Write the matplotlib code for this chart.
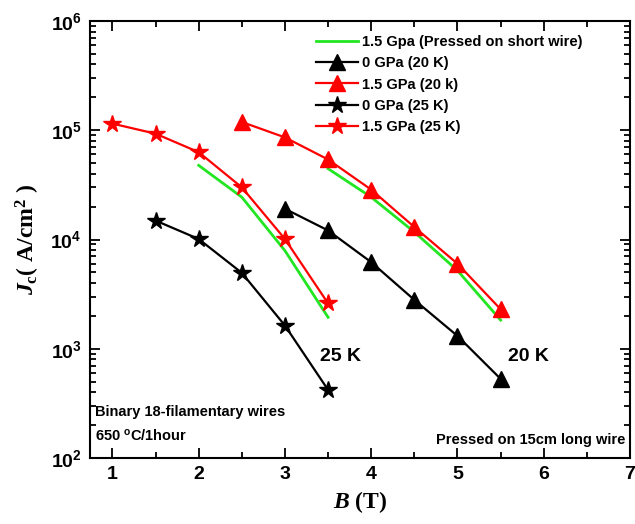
import matplotlib
matplotlib.use("Agg")
import matplotlib.pyplot as plt
from matplotlib.ticker import LogLocator, MultipleLocator, LogFormatterSciNotation


# data
b_25k = [1.0, 1.5, 2.0, 2.5, 3.0, 3.5]
jc_15gpa_25k = [1.15e5, 9.3e4, 6.3e4, 3.0e4, 1.01e4, 2.6e3]
b_0gpa_25k = [1.5, 2.0, 2.5, 3.0, 3.5]
jc_0gpa_25k = [1.49e4, 1.01e4, 4.95e3, 1.63e3, 4.2e2]

b_20k_red = [2.5, 3.0, 3.5, 4.0, 4.5, 5.0, 5.5]
jc_15gpa_20k = [1.19e5, 8.6e4, 5.4e4, 2.86e4, 1.3e4, 6.0e3, 2.3e3]
b_20k_black = [3.0, 3.5, 4.0, 4.5, 5.0, 5.5]
jc_0gpa_20k = [1.91e4, 1.21e4, 6.2e3, 2.8e3, 1.31e3, 5.3e2]

b_short_25k = [2.0, 2.5, 3.0, 3.5]
jc_short_25k = [4.77e4, 2.44e4, 7.9e3, 1.94e3]
b_short_20k = [3.5, 4.0, 4.5, 5.0, 5.5]
jc_short_20k = [4.45e4, 2.44e4, 1.17e4, 5.2e3, 1.83e3]

plt.rcParams["mathtext.fontset"] = "custom"
plt.rcParams["mathtext.it"] = "Liberation Serif:italic:bold"
plt.rcParams["mathtext.rm"] = "Liberation Serif:bold"
plt.rcParams["mathtext.bf"] = "Liberation Serif:bold"

SANS = "Liberation Sans"
SERIF = "Liberation Serif"

fig = plt.figure(figsize=(6.35, 5.24), dpi=100)
ax = fig.add_axes([90 / 635, 1 - 458 / 524, 540 / 635, 437 / 524])

lw = 1.6
ax.plot(b_short_25k, jc_short_25k, color="#22e622", lw=lw + 0.4,
        label="1.5 Gpa (Pressed on short wire)")
ax.plot(b_short_20k, jc_short_20k, color="#22e622", lw=lw + 0.4)
ax.plot(b_20k_black, jc_0gpa_20k, color="black", lw=lw, marker="^", ms=11,
        label="0 GPa (20 K)")
ax.plot(b_20k_red, jc_15gpa_20k, color="red", lw=lw, marker="^", ms=11,
        label="1.5 GPa (20 k)")
ax.plot(b_0gpa_25k, jc_0gpa_25k, color="black", lw=lw, marker="*", ms=13,
        label="0 GPa (25 K)")
ax.plot(b_25k, jc_15gpa_25k, color="red", lw=lw, marker="*", ms=13,
        label="1.5 GPa (25 K)")

ax.set_yscale("log")
ax.set_xlim(0.74, 7)
ax.set_ylim(1e2, 1e6)

ax.xaxis.set_major_locator(MultipleLocator(1))
ax.xaxis.set_minor_locator(MultipleLocator(0.5))
ax.yaxis.set_major_locator(LogLocator(base=10))
ax.yaxis.set_minor_locator(LogLocator(base=10, subs=range(2, 10)))
ax.yaxis.set_major_formatter(LogFormatterSciNotation())

ax.tick_params(which="both", direction="in", top=True, right=True, width=1.3)
ax.tick_params(which="major", length=7, labelsize=14, pad=6)
ax.tick_params(which="minor", length=4)
ax.tick_params(axis="x", which="both", top=True, labeltop=False)
ax.tick_params(axis="y", which="both", right=True, labelright=False)
for lab in ax.get_xticklabels() + ax.get_yticklabels():
    lab.set_fontfamily(SANS)
    lab.set_fontweight("bold")
for sp in ax.spines.values():
    sp.set_linewidth(1.5)

ax.set_xlabel(r"$B$ (T)", fontsize=17, fontfamily=SERIF, fontweight="bold",
              labelpad=4)
ax.set_ylabel(r"$J_{\mathdefault{c}}$( A/cm$^{\mathdefault{2}}$ )", fontsize=17,
              fontfamily=SERIF, fontweight="bold", labelpad=6)

txt = dict(fontfamily=SANS, fontweight="bold")
ax.text(3.41, 7.7e2, "25 K", fontsize=14, **txt)
ax.text(5.58, 7.7e2, "20 K", fontsize=14, **txt)
ax.text(0.8, 2.4e2, "Binary 18-filamentary wires", fontsize=10.5, **txt)
ax.text(0.8, 1.46e2, r"650 $^{\mathdefault{o}}$C/1hour", fontsize=10.5, **txt)
ax.text(6.95, 1.35e2, "Pressed on 15cm long wire", fontsize=10.5, ha="right",
        **txt)

ax.legend(loc="upper left", bbox_to_anchor=(0.418, 0.968), frameon=False,
          prop=dict(family=SANS, weight="bold", size=10.5), handlelength=2.9,
          handletextpad=0.25, labelspacing=0.5, borderpad=0, borderaxespad=0)

fig.savefig("out.png", dpi=100)
